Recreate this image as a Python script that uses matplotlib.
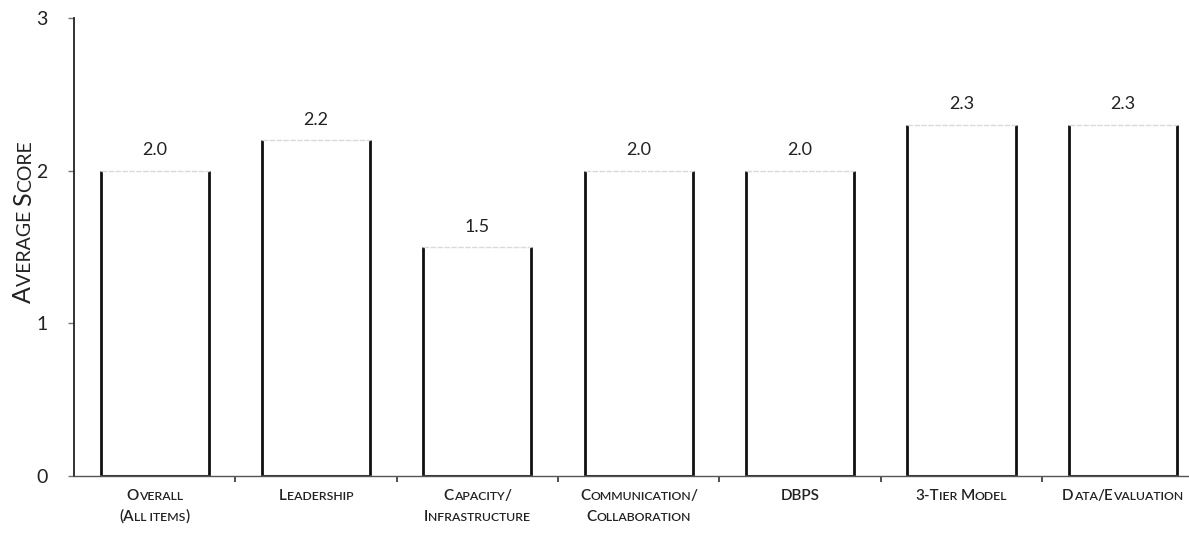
import matplotlib
matplotlib.use("Agg")
import matplotlib.pyplot as plt

plt.rcParams['font.family'] = ['Lato', 'DejaVu Sans']

# ---- data ----
categories = [
    ["Overall", "(All items)"],
    ["Leadership"],
    ["Capacity/", "Infrastructure"],
    ["Communication/", "Collaboration"],
    ["DBPS"],
    ["3-Tier Model"],
    ["Data/Evaluation"],
]
values = [2.0, 2.2, 1.5, 2.0, 2.0, 2.3, 2.3]
value_labels = ["2.0", "2.2", "1.5", "2.0", "2.0", "2.3", "2.3"]
y_ticks = [0, 1, 2, 3]
y_label = "Average Score"

W, H, DPI = 1189, 554, 100
fig = plt.figure(figsize=(W / DPI, H / DPI), dpi=DPI)
fig.patch.set_facecolor('white')
ax = fig.add_axes([74 / W, 1 - 476 / H, 1 - 74 / W, (476 - 18) / H])

x = list(range(len(values)))
bars = ax.bar(x, values, width=0.67, color='white', edgecolor='none', zorder=2)
for b in bars:
    x0, x1, h = b.get_x(), b.get_x() + b.get_width(), b.get_height()
    ax.plot([x0, x0], [0, h], color='#111111', lw=2.0, zorder=3, solid_capstyle='butt')
    ax.plot([x1, x1], [0, h], color='#111111', lw=2.0, zorder=3, solid_capstyle='butt')
    ax.plot([x0, x1], [h, h], color='#dadada', lw=1.0, ls=(0, (4, 1)), zorder=3)
    ax.plot([x0, x1], [0, 0], color='#3a3a3a', lw=2.2, zorder=3)

for i, (v, lab) in enumerate(zip(values, value_labels)):
    ax.annotate(lab, (i, v), xytext=(0, 9), textcoords='offset points',
                ha='center', va='bottom', fontsize=13, color='#222222')

ax.set_xlim(-0.5, 6.41)
ax.set_ylim(0, 3)
ax.set_yticks(y_ticks)
ax.set_yticklabels([str(t) for t in y_ticks], fontsize=14, color='#222222')
ax.set_xticks([i + 0.5 for i in range(len(values) - 1)])
ax.set_xticklabels([])
ax.tick_params(axis='y', length=4, width=1, color='#777777', pad=15)
ax.tick_params(axis='x', length=4, width=1.2, color='#333333', direction='out')
for s in ['top', 'right']:
    ax.spines[s].set_visible(False)
ax.spines['left'].set_color('#222222')
ax.spines['left'].set_linewidth(1.3)
ax.spines['bottom'].set_color('#555555')
ax.spines['bottom'].set_linewidth(1.0)

renderer = fig.canvas.get_renderer()


def pieces_for(text, big, small):
    out = []
    for ch in text:
        if ch.isalpha() and ch.islower():
            out.append((ch.upper(), small))
        elif ch == ' ':
            out.append((ch, small))
        else:
            out.append((ch, big))
    merged = []
    for s, sz in out:
        if merged and merged[-1][1] == sz:
            merged[-1] = (merged[-1][0] + s, sz)
        else:
            merged.append((s, sz))
    return merged


def text_width(s, size, weight):
    def w(txt):
        t = fig.text(0, 0, txt, fontsize=size, fontweight=weight)
        bb = t.get_window_extent(renderer)
        t.remove()
        return bb.width
    return w('|' + s + '|') - w('||')


def small_caps(text, cx, cy, big, small, rotation=0, color='#222222', weight='normal'):
    """cx, cy: display coords of the baseline centre."""
    pieces = pieces_for(text, big, small)
    widths = [text_width(s, sz, weight) for s, sz in pieces]
    total = sum(widths)
    pos = -total / 2
    for (s, sz), w in zip(pieces, widths):
        if rotation == 0:
            px, py = cx + pos, cy
        else:
            px, py = cx, cy + pos
        fx, fy = fig.transFigure.inverted().transform((px, py))
        fig.text(fx, fy, s, fontsize=sz, color=color, rotation=rotation,
                 rotation_mode='anchor', ha='left', va='baseline', fontweight=weight)
        pos += w


fig.canvas.draw()
for i, lines in enumerate(categories):
    dx, _ = ax.transData.transform((i, 0))
    for j, line in enumerate(lines):
        base_y = (H - 476) - 24 - j * 21
        small_caps(line, dx, base_y, 11, 8.8, weight='semibold')

small_caps(y_label, 31, H - 222, 18, 14, rotation=90)

fig.savefig('out.png', dpi=DPI)
